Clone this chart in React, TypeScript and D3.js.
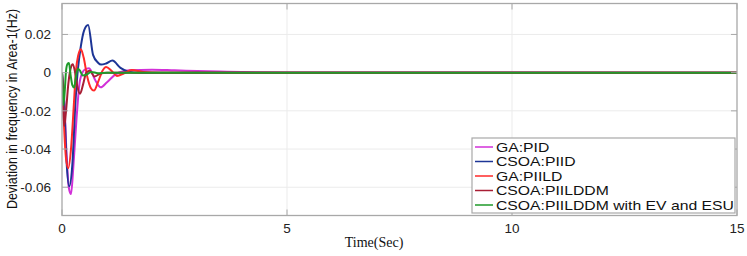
import * as React from 'react';
import * as d3 from 'd3';

// time (s) and frequency deviation (Hz)
const tPID = [0, 0.05, 0.1, 0.15, 0.2, 0.25, 0.32, 0.4, 0.5, 0.6, 0.74, 0.86, 1.0, 1.2, 1.5, 2.0, 2.5, 3.0, 3.5, 4.0, 5, 15];
const vPID = [0, -0.014, -0.042, -0.06, -0.0636, -0.05, -0.025, -0.004, 0.0015, 0.0023, -0.004, -0.0077, -0.005, -0.0008, 0.0012, 0.0015, 0.0012, 0.0009, 0.0006, 0.0003, 0.0001, 0];

const tPIID = [0, 0.05, 0.1, 0.16, 0.23, 0.3, 0.35, 0.42, 0.49, 0.58, 0.69, 0.8, 0.87, 0.98, 1.12, 1.3, 1.48, 1.7, 2.0, 15];
const vPIID = [0, -0.016, -0.046, -0.0595, -0.048, -0.015, 0.001, 0.014, 0.022, 0.025, 0.0093, 0.0052, 0.0042, 0.0048, 0.0063, 0.0025, 0.0005, 0, 0, 0];

const tPIILD = [0, 0.04, 0.09, 0.14, 0.2, 0.26, 0.31, 0.36, 0.42, 0.48, 0.56, 0.64, 0.71, 0.8, 0.9, 0.98, 1.1, 1.22, 1.38, 1.55, 1.8, 2.2, 15];
const vPIILD = [0, -0.025, -0.045, -0.05, -0.04, -0.018, 0.001, 0.009, 0.0123, 0.008, -0.002, -0.008, -0.0094, -0.005, 0.001, 0.003, 0.001, -0.0017, -0.0003, 0.0014, 0.0004, 0, 0];

const tPIILDDM = [0, 0.025, 0.05, 0.09, 0.14, 0.19, 0.24, 0.3, 0.34, 0.4, 0.47, 0.54, 0.62, 0.72, 0.85, 1.0, 15];
const vPIILDDM = [0, -0.018, -0.028, -0.02, -0.006, 0.002, 0.0044, -0.001, -0.007, -0.011, -0.006, 0.0, 0.001, -0.002, -0.0005, 0, 0];

const tEV = [0, 0.015, 0.03, 0.06, 0.09, 0.12, 0.155, 0.19, 0.23, 0.27, 0.31, 0.35, 0.4, 0.46, 0.55, 0.65, 0.8, 1.0, 15];
const vEV = [0, -0.01, -0.017, -0.01, 0.001, 0.0045, 0.005, -0.001, -0.0065, -0.0078, -0.002, 0.002, 0.001, -0.0015, -0.001, 0.0004, -0.0003, 0, 0];

const seriesNames = ['GA:PID', 'CSOA:PIID', 'GA:PIILD', 'CSOA:PIILDDM', 'CSOA:PIILDDM with EV and ESU'];
const seriesColors = ['#d230d8', '#1d3596', '#ff2a2a', '#a81e34', '#1f9a2a'];
const seriesT = [tPID, tPIID, tPIILD, tPIILDDM, tEV];
const seriesV = [vPID, vPIID, vPIILD, vPIILDDM, vEV];

const xTicks = [0, 5, 10, 15];
const yTicks = [-0.06, -0.04, -0.02, 0, 0.02];
const yTickLabels = ['-0.06', '-0.04', '-0.02', '0', '0.02'];

const W = 747;
const H = 256;
const plot = { left: 62, right: 737, top: 3.5, bottom: 215.5 };

const App = () => {
  const x = d3.scaleLinear().domain([0, 15]).range([plot.left, plot.right]);
  const y = d3.scaleLinear().domain([-0.0748, 0.0362]).range([plot.bottom, plot.top]);

  const line = d3
    .line<[number, number]>()
    .x((d) => x(d[0]))
    .y((d) => y(d[1]))
    .curve(d3.curveMonotoneX);

  const legend = { x: 472, y: 138, w: 263, h: 75, row: 14.5 };

  return (
    <svg width={W} height={H} style={{ position: 'absolute', left: 0, top: 0 }}>
      <rect x={0} y={0} width={W} height={H} fill="#fff" />
      {/* grid */}
      {yTicks.map((t) => (
        <line key={'gy' + t} x1={plot.left} x2={plot.right} y1={y(t)} y2={y(t)} stroke="#ebebeb" strokeWidth={1} />
      ))}
      {xTicks.slice(1, -1).map((t) => (
        <line key={'gx' + t} x1={x(t)} x2={x(t)} y1={plot.top} y2={plot.bottom} stroke="#ebebeb" strokeWidth={1} />
      ))}
      {/* curves */}
      <g clipPath="url(#clip)">
        {seriesT.map((ts, i) => (
          <path
            key={seriesNames[i]}
            d={line(ts.map((t, j) => [t, seriesV[i][j]] as [number, number])) || ''}
            fill="none"
            stroke={seriesColors[i]}
            strokeWidth={2}
            strokeLinejoin="round"
          />
        ))}
      </g>
      <defs>
        <clipPath id="clip">
          <rect x={plot.left} y={plot.top} width={plot.right - plot.left} height={plot.bottom - plot.top} />
        </clipPath>
      </defs>
      {/* box */}
      <rect
        x={plot.left}
        y={plot.top}
        width={plot.right - plot.left}
        height={plot.bottom - plot.top}
        fill="none"
        stroke="#a8a8a8"
        strokeWidth={1.3}
      />
      {/* ticks */}
      {yTicks.map((t) => (
        <g key={'ty' + t}>
          <line x1={plot.left} x2={plot.left + 6} y1={y(t)} y2={y(t)} stroke="#a8a8a8" />
          <line x1={plot.right} x2={plot.right - 6} y1={y(t)} y2={y(t)} stroke="#a8a8a8" />
        </g>
      ))}
      {xTicks.map((t) => (
        <g key={'tx' + t}>
          <line x1={x(t)} x2={x(t)} y1={plot.bottom} y2={plot.bottom - 6} stroke="#a8a8a8" />
          <line x1={x(t)} x2={x(t)} y1={plot.top} y2={plot.top + 6} stroke="#a8a8a8" />
        </g>
      ))}
      {/* tick labels */}
      {yTicks.map((t, i) => (
        <text
          key={'ly' + t}
          x={plot.left - 11}
          y={y(t)}
          dy="0.36em"
          textAnchor="end"
          fontFamily="Liberation Sans, Arial, sans-serif"
          fontSize={13.5}
          fill="#222"
        >
          {yTickLabels[i]}
        </text>
      ))}
      {xTicks.map((t) => (
        <text
          key={'lx' + t}
          x={x(t)}
          y={233}
          textAnchor="middle"
          fontFamily="Liberation Sans, Arial, sans-serif"
          fontSize={13.5}
          fill="#222"
        >
          {t}
        </text>
      ))}
      {/* axis titles */}
      <text x={374} y={247} textAnchor="middle" fontFamily="Liberation Serif, Times New Roman, serif" fontSize={14} fill="#111">
        Time(Sec)
      </text>
      <text
        transform={`translate(17, 109) rotate(-90) scale(0.86, 1)`}
        textAnchor="middle"
        fontFamily="Liberation Sans, Arial, sans-serif"
        fontSize={14.5}
        fill="#111"
      >
        Deviation in frequency in Area-1(Hz)
      </text>
      {/* legend */}
      <rect x={legend.x} y={legend.y} width={legend.w} height={legend.h} fill="#fff" stroke="#a8a8a8" strokeWidth={1.2} />
      {seriesNames.map((name, i) => {
        const ry = legend.y + 9 + i * legend.row;
        return (
          <g key={'lg' + name}>
            <line x1={legend.x + 3} x2={legend.x + 21} y1={ry} y2={ry} stroke={seriesColors[i]} strokeWidth={1.5} />
            <text
              transform={`translate(${legend.x + 24}, ${ry}) scale(1.25, 1)`}
              dy="0.36em"
              fontFamily="Liberation Sans, Arial, sans-serif"
              fontSize={12.6}
              fill="#111"
            >
              {name}
            </text>
          </g>
        );
      })}
    </svg>
  );
};

export default App;
